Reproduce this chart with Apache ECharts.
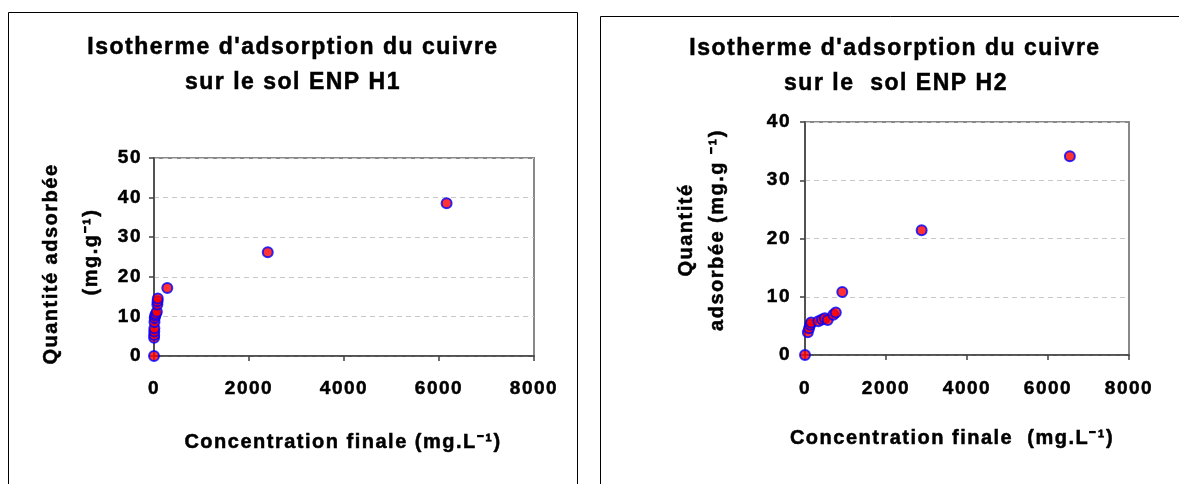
<!DOCTYPE html>
<html>
<head>
<meta charset="utf-8">
<script src="https://cdn.jsdelivr.net/npm/echarts@6/dist/echarts.min.js"></script>
<style>
  html, body { margin: 0; padding: 0; background: #fff; }
  #chart { width: 1179px; height: 484px; }
</style>
</head>
<body>
<div id="chart"></div>
<script>
// sol ENP H1
const h1Conc = [0, 2, 4, 6, 8, 10, 15, 25, 40, 60, 70, 75, 80, 280, 2395, 6160]
const h1Qads = [0, 4.6, 5.3, 6.2, 7.0, 8.6, 9.6, 10.2, 10.6, 11.2, 13.0, 13.8, 14.5, 17.2, 26.2, 38.6]
// sol ENP H2
const h2Conc = [0, 70, 100, 130, 150, 330, 420, 490, 560, 700, 760, 920, 2880, 6540]
const h2Qads = [0, 3.9, 4.6, 5.2, 5.6, 5.8, 6.1, 6.3, 6.0, 6.9, 7.3, 10.8, 21.4, 34.1]

const xTicks = [0, 2000, 4000, 6000, 8000]
const h1YTicks = [0, 10, 20, 30, 40, 50]
const h2YTicks = [0, 10, 20, 30, 40]

const FONT = '"Liberation Sans", Arial, sans-serif'

// the excel export has loose tracking on every text, canvas can do the same
const ctxProto = CanvasRenderingContext2D.prototype
const fillText = ctxProto.fillText
const strokeText = ctxProto.strokeText
ctxProto.fillText = function (...args) {
  this.letterSpacing = '1.5px'
  return fillText.apply(this, args)
}
ctxProto.strokeText = function (...args) {
  this.letterSpacing = '1.5px'
  return strokeText.apply(this, args)
}

const range = ticks => ({
  min: ticks[0],
  max: ticks[ticks.length - 1],
  interval: ticks[1] - ticks[0]
})

const axisLine = { show: true, onZero: false, lineStyle: { color: '#404040', width: 1.5 } }
const axisTick = { show: true, length: 5, lineStyle: { color: '#404040', width: 1.5 } }
const tickLabel = margin => ({
  margin, fontSize: 19, fontWeight: 'bold', color: '#000', fontFamily: FONT,
  textBorderColor: '#000', textBorderWidth: 0.5,
  formatter: v => String(v)
})

const makeX = (gridIndex, margin) => ({
  type: 'value', gridIndex, ...range(xTicks),
  axisLine, axisTick, axisLabel: tickLabel(margin),
  splitLine: { show: false }
})

const makeY = (gridIndex, ticks, margin) => ({
  type: 'value', gridIndex, ...range(ticks),
  axisLine, axisTick, axisLabel: tickLabel(margin),
  splitLine: { show: true, lineStyle: { color: '#c8c8c8', width: 1, type: [5, 4] } }
})

const makeScatter = (index, xs, ys) => ({
  type: 'scatter', xAxisIndex: index, yAxisIndex: index,
  symbol: 'circle', symbolSize: 10,
  itemStyle: { color: '#ff0000', borderColor: '#0000ff', borderWidth: 2 },
  emphasis: { disabled: true },
  data: xs.map((x, i) => [x, ys[i]])
})

const text = (str, x, y, size, rotation = 0) => ({
  type: 'text', x, y, rotation, silent: true,
  style: {
    text: str, fontSize: size, fontWeight: 'bold', fontFamily: FONT,
    fill: '#000', stroke: '#000', lineWidth: 0.5,
    textAlign: 'center', textVerticalAlign: 'middle'
  }
})

const frame = (x, y, w, h) => ({
  type: 'rect', silent: true,
  shape: { x, y, width: w, height: h },
  style: { fill: 'none', stroke: '#000', lineWidth: 1 }
})

const gridStyle = { show: true, borderColor: '#888', borderWidth: 2, backgroundColor: '#fff', containLabel: false, outerBoundsMode: 'none' }

const chart = echarts.init(document.getElementById('chart'))
chart.setOption({
  animation: false,
  backgroundColor: '#fff',
  grid: [
    { ...gridStyle, left: 154, top: 158, width: 380, height: 198 },
    { ...gridStyle, left: 805, top: 122, width: 324, height: 233 }
  ],
  xAxis: [makeX(0, 23), makeX(1, 24)],
  yAxis: [makeY(0, h1YTicks, 12), makeY(1, h2YTicks, 14)],
  series: [makeScatter(0, h1Conc, h1Qads), makeScatter(1, h2Conc, h2Qads)],
  graphic: [
    frame(8.5, 12.5, 569, 480),
    frame(600.5, 16.5, 600, 480),

    text("Isotherme d'adsorption du cuivre", 293, 48, 23),
    text('sur le sol ENP H1', 293, 83, 23),
    text('Concentration finale (mg.L⁻¹)', 343, 442, 20),
    text('Quantité adsorbée', 51, 264, 20, Math.PI / 2),
    text('(mg.g⁻¹)', 91, 252, 20, Math.PI / 2),

    text("Isotherme d'adsorption du cuivre", 895, 49, 23),
    text('sur le  sol ENP H2', 896, 84, 23),
    text('Concentration finale  (mg.L⁻¹)', 952, 438, 20),
    text('Quantité', 686, 230, 20, Math.PI / 2),
    text('adsorbée (mg.g ⁻¹)', 717, 230, 20, Math.PI / 2)
  ]
})
</script>
</body>
</html>
